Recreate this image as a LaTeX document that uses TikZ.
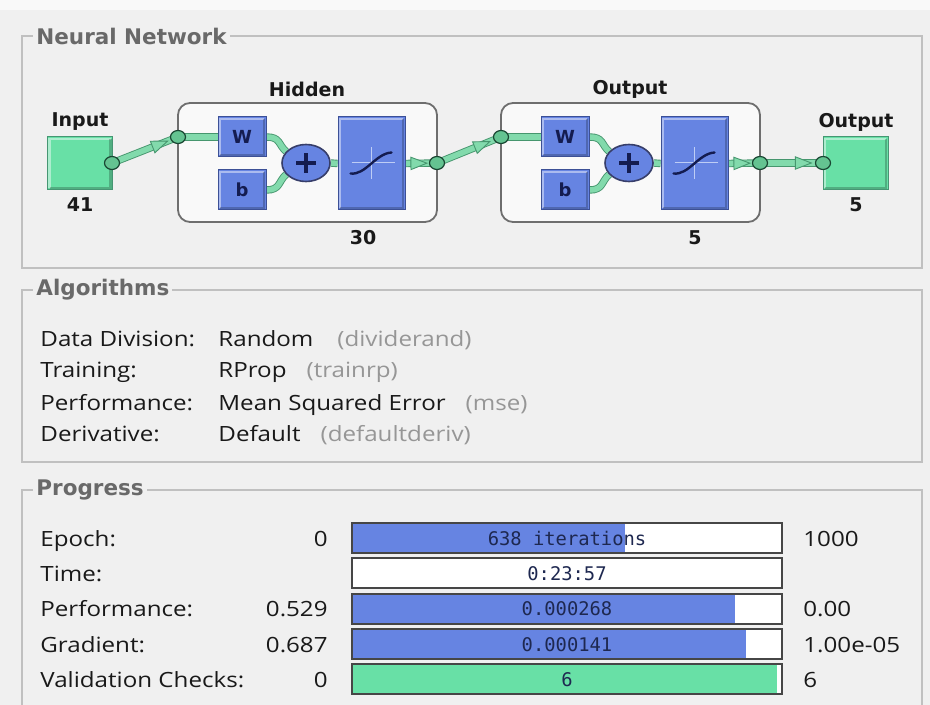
\documentclass[tikz,border=0pt]{standalone}
\usepackage{fontspec}
\setmainfont{Open Sans}[FakeStretch=1.15]
\newfontfamily\netlabfont{DejaVu Sans}
\newfontfamily\barmono{DejaVu Sans Mono}
\usetikzlibrary{shapes.geometric,decorations.markings}

\definecolor{panelbg}{RGB}{240,240,240}
\definecolor{framegray}{RGB}{192,192,192}
\definecolor{titlegray}{RGB}{105,105,105}
\definecolor{layerfill}{RGB}{249,249,249}
\definecolor{layeredge}{RGB}{110,110,110}
\definecolor{mint}{RGB}{104,224,166}
\definecolor{mintedge}{RGB}{70,150,115}
\definecolor{netblue}{RGB}{102,132,226}
\definecolor{netblueedge}{RGB}{60,80,150}
\definecolor{pipefill}{RGB}{130,218,172}
\definecolor{pipeedge}{RGB}{70,150,110}
\definecolor{dotfill}{RGB}{100,195,145}
\definecolor{dotedge}{RGB}{25,70,50}
\definecolor{navy}{RGB}{20,28,80}
\definecolor{txt}{RGB}{25,25,25}
\definecolor{soft}{RGB}{150,150,150}
\definecolor{barborder}{RGB}{70,70,70}
\definecolor{bartext}{RGB}{30,40,80}
\definecolor{crossline}{RGB}{190,205,245}

\pgfdeclarelayer{frames}
\pgfdeclarelayer{pipes}
\pgfsetlayers{frames,pipes,main}

\tikzset{
  panelframe/.style={draw=framegray, line width=0.6pt},
  paneltitle/.style={font=\netlabfont\bfseries\fontsize{10.75pt}{12pt}\selectfont,
    text=titlegray, fill=panelbg, inner xsep=1.5pt, inner ysep=0pt, anchor=west},
  bevel/.style={path picture={
    \draw[white,opacity=0.45,line width=1.2pt]
      ([shift={(1pt,1pt)}]path picture bounding box.south west) --
      ([shift={(1pt,-1pt)}]path picture bounding box.north west) --
      ([shift={(-1pt,-1pt)}]path picture bounding box.north east);
    \draw[black,opacity=0.22,line width=1.2pt]
      ([shift={(1pt,1pt)}]path picture bounding box.south west) --
      ([shift={(-1pt,1pt)}]path picture bounding box.south east) --
      ([shift={(-1pt,-1pt)}]path picture bounding box.north east);
  }},
  layerbox/.style={draw=layeredge, fill=layerfill, line width=0.9pt, rounded corners=6pt,
    minimum width=129.5pt, minimum height=59.5pt},
  greenbox/.style={draw=mintedge, fill=mint, line width=0.5pt,
    minimum width=32.5pt, minimum height=26.5pt, bevel},
  bluebox/.style={draw=netblueedge, fill=netblue, line width=0.5pt, bevel,
    font=\netlabfont\bfseries\fontsize{9pt}{9pt}\selectfont, text=navy},
  wbbox/.style={bluebox, minimum width=24pt, minimum height=20pt, inner sep=0pt},
  sigbox/.style={bluebox, minimum width=33.5pt, minimum height=46.5pt},
  sumnode/.style={ellipse, draw=navy!85, fill=netblue, line width=0.8pt,
    minimum width=24pt, minimum height=18.5pt, inner sep=0pt},
  portdot/.style={ellipse, draw=dotedge, fill=dotfill, line width=0.6pt,
    minimum width=7.5pt, minimum height=6.5pt, inner sep=0pt},
  netlabel/.style={font=\netlabfont\bfseries\fontsize{9.5pt}{10pt}\selectfont, text=txt},
  pipe/.style={draw=pipeedge, line width=0.45pt, double=pipefill, double distance=2.8pt},
  headat/.style={postaction={decorate,decoration={markings,
    mark=at position #1 with {\filldraw[fill=pipefill,draw=pipeedge,line width=0.45pt]
      (-4.4pt,-3.1pt) -- (3.6pt,0pt) -- (-4.4pt,3.1pt) -- cycle;}}}},
  formtext/.style={font=\fontsize{10.5pt}{12pt}\selectfont, text=txt, inner sep=0pt},
  bartext/.style={font=\barmono\fontsize{9.4pt}{10pt}\selectfont, text=bartext, inner sep=0pt},
  barbox/.style={draw=barborder, line width=1pt},
}

\begin{document}
\begin{tikzpicture}[x=0.5pt,y=-0.5pt]
\useasboundingbox (0,0) rectangle (930,705);

% window background and the three group panels
\begin{pgfonlayer}{frames}
  \fill[panelbg] (0,0) rectangle (930,705);
  \fill[white!60!panelbg] (0,0) rectangle (930,10);
  \draw[panelframe] (22,36) rectangle (922,268);
  \draw[panelframe] (22,290) rectangle (922,462);
  \draw[panelframe] (22,712) -- (22,490) -- (922,490) -- (922,712);
\end{pgfonlayer}
\node[paneltitle] (ttlnet) at (33,36) {Neural Network};
\node[paneltitle] (ttlalg) at (33,290) {Algorithms};
\node[paneltitle] (ttlprog) at (33,490) {Progress};

% ---------------- network diagram ----------------
\node[greenbox] (inbox) at (80,163.5) {};
\node[portdot] (cin) at (112,163) {};
\node[netlabel] (inlabel) at (80,122) {Input};
\node[netlabel] (insize) at (80,205) {41};

\node[greenbox] (outbox) at (855.5,163.5) {};
\node[portdot] (fin) at (823,163) {};
\node[netlabel] (outlabel) at (856,122) {Output};
\node[netlabel] (outsize) at (856,205) {5};

\foreach \lay/\dx/\ttl/\sz/\szx in {h/0/Hidden/30/363, o/323/Output/5/695} {
  \begin{pgfonlayer}{frames}
    \node[layerbox] (\lay box) at (307.5+\dx,162.5) {};
  \end{pgfonlayer}
  \node[netlabel] (\lay title) at (307+\dx,89) {\ttl};
  \node[netlabel] (\lay size) at (\szx,238) {\sz};
  \node[wbbox] (\lay W) at (242+\dx,137) {W};
  \node[wbbox] (\lay b) at (242+\dx,190) {b};
  \node[sumnode] (\lay sum) at (306+\dx,163) {};
  \draw[navy, line width=1.6pt]
    ([xshift=-4.8pt]\lay sum.center) -- ([xshift=4.8pt]\lay sum.center)
    ([yshift=-4.8pt]\lay sum.center) -- ([yshift=4.8pt]\lay sum.center);
  \node[sigbox] (\lay sig) at (371.5+\dx,163.5) {};
  \begin{scope}[shift={(\lay sig.center)}]
    \draw[crossline, line width=0.7pt] (0,-16) -- (0,16) (-20,-1) -- (23,-1);
    \draw[navy, line width=1.2pt, line cap=round]
      (-21,10) .. controls (-6,12) and (4,-10) .. (20,-11);
  \end{scope}
  \node[portdot] (\lay in) at (178+\dx,137) {};
  \node[portdot] (\lay out) at (437+\dx,163) {};
  \begin{pgfonlayer}{pipes}
    \draw[pipe] (\lay in.center) -- (\lay W.west);
    \draw[pipe] (\lay W.east) .. controls +(14,0) and +(-8,-7) .. (\lay sum.150);
    \draw[pipe] (\lay b.east) .. controls +(14,0) and +(-8,7) .. (\lay sum.210);
    \draw[pipe] (\lay sum.east) -- (\lay sig.west);
    \draw[pipe] (\lay sig.east) -- (\lay out.center);
    \path[headat=0.45] (\lay sig.east) -- (\lay out.center);
  \end{pgfonlayer}
}

\begin{pgfonlayer}{pipes}
  \draw[pipe] (cin.center) -- (hin.center);
  \path[headat=0.74] (cin.center) -- (hin.center);
  \draw[pipe] (hout.center) -- (oin.center);
  \path[headat=0.72] (hout.center) -- (oin.center);
  \draw[pipe] (oout.center) -- (fin.center);
  \path[headat=0.7] (oout.center) -- (fin.center);
\end{pgfonlayer}

% ---------------- algorithms ----------------
\node[formtext, anchor=base west] (alg1) at (40,346) {Data Division:};
\node[formtext, anchor=base west] (alg2) at (40,377) {Training:};
\node[formtext, anchor=base west] (alg3) at (40,410) {Performance:};
\node[formtext, anchor=base west] (alg4) at (40,441) {Derivative:};
\node[formtext, anchor=base west] (val1) at (218,346) {Random\hspace{12pt}\textcolor{soft}{(dividerand)}};
\node[formtext, anchor=base west] (val2) at (218,377) {RProp\hspace{10pt}\textcolor{soft}{(trainrp)}};
\node[formtext, anchor=base west] (val3) at (218,410) {Mean Squared Error\hspace{10pt}\textcolor{soft}{(mse)}};
\node[formtext, anchor=base west] (val4) at (218,441) {Default\hspace{10pt}\textcolor{soft}{(defaultderiv)}};

% ---------------- progress ----------------
% bar backgrounds, progress fills and borders
\fill[white] (352,523) rectangle (782,553);
\fill[netblue] (353,524) rectangle (625,552);
\draw[barbox] (352,523) rectangle (782,553);
\fill[white] (352,558) rectangle (782,588);
\draw[barbox] (352,558) rectangle (782,588);
\fill[white] (352,594) rectangle (782,624);
\fill[netblue] (353,595) rectangle (735,623);
\draw[barbox] (352,594) rectangle (782,624);
\fill[white] (352,629) rectangle (782,659);
\fill[netblue] (353,630) rectangle (746,658);
\draw[barbox] (352,629) rectangle (782,659);
\fill[white] (352,664) rectangle (782,694);
\fill[mint] (353,665) rectangle (777,693);
\draw[barbox] (352,664) rectangle (782,694);

\node[formtext, anchor=base west] (p1) at (40,546) {Epoch:};
\node[formtext, anchor=base west] (p2) at (40,581) {Time:};
\node[formtext, anchor=base west] (p3) at (40,616) {Performance:};
\node[formtext, anchor=base west] (p4) at (40,652) {Gradient:};
\node[formtext, anchor=base west] (p5) at (40,687) {Validation Checks:};

\node[formtext, anchor=base east] (s1) at (328,546) {0};
\node[formtext, anchor=base east] (s3) at (328,616) {0.529};
\node[formtext, anchor=base east] (s4) at (328,652) {0.687};
\node[formtext, anchor=base east] (s5) at (328,687) {0};

\node[bartext, anchor=base] (b1) at (567,545) {638 iterations};
\node[bartext, anchor=base] (b2) at (567,580) {0:23:57};
\node[bartext, anchor=base] (b3) at (567,615) {0.000268};
\node[bartext, anchor=base] (b4) at (567,651) {0.000141};
\node[bartext, anchor=base] (b5) at (567,686) {6};

\node[formtext, anchor=base west] (e1) at (803,546) {1000};
\node[formtext, anchor=base west] (e3) at (803,616) {0.00};
\node[formtext, anchor=base west] (e4) at (803,652) {1.00e-05};
\node[formtext, anchor=base west] (e5) at (803,687) {6};
\end{tikzpicture}
\end{document}
